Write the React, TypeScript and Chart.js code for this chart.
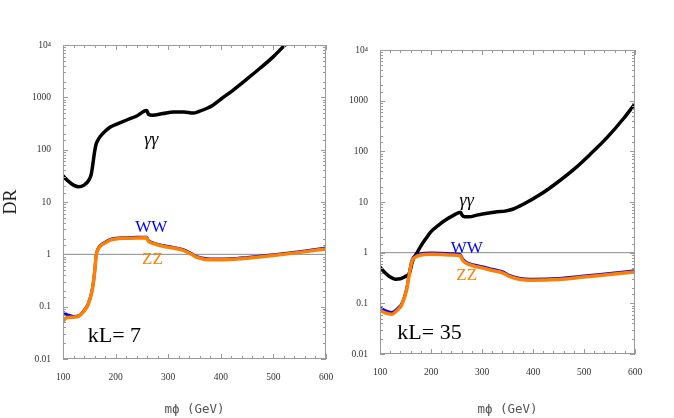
import React, { useEffect, useRef } from 'react';
import { Chart, registerables } from 'chart.js';

Chart.register(...registerables);

// ---------- axis labels ----------
const yTickValues = [0.01, 0.1, 1, 10, 100, 1000, 10000];
const yTickLabels = ['0.01', '0.1', '1', '10', '100', '1000', '10⁴'];
const xTickLabelValues = [100, 200, 300, 400, 500, 600];

// ---------- kL = 7 ----------
const gg7Mass = [100, 110, 120, 130, 140, 150, 154, 157, 160, 163, 166, 170, 180, 190, 200, 220, 240, 259, 263, 270, 290, 310, 330, 347, 360, 373, 385, 400, 423, 450, 474, 500, 522, 550, 600];
const gg7Values = [31.6, 25, 21, 19.5, 21, 27, 35, 55, 90, 128, 150, 175, 225, 272, 300, 365, 440, 560, 470, 455, 490, 525, 525, 500, 545, 611, 708, 920, 1365, 2250, 3550, 6000, 10000, 17500, 45000];

const vv7Mass = [100, 105, 110, 120, 130, 140, 148, 154, 157, 160, 163, 166, 170, 180, 190, 200, 220, 240, 259, 262, 270, 290, 310, 330, 345, 355, 370, 390, 420, 450, 500, 550, 600];
const ww7Values = [0.078, 0.073, 0.069, 0.065, 0.067, 0.085, 0.115, 0.18, 0.26, 0.45, 0.95, 1.25, 1.45, 1.7, 1.92, 2.02, 2.08, 2.12, 2.13, 1.85, 1.68, 1.48, 1.36, 1.22, 1.02, 0.9, 0.83, 0.81, 0.82, 0.87, 0.98, 1.12, 1.32];
const zz7Values = [0.052, 0.06, 0.062, 0.063, 0.066, 0.082, 0.11, 0.175, 0.25, 0.44, 0.92, 1.2, 1.4, 1.65, 1.87, 1.97, 2.03, 2.06, 2.07, 1.8, 1.63, 1.43, 1.32, 1.18, 0.99, 0.87, 0.8, 0.785, 0.8, 0.845, 0.95, 1.09, 1.27];

// ---------- kL = 35 ----------
const gg35Mass = [100, 110, 120, 130, 140, 150, 156, 159, 162, 166, 170, 180, 190, 200, 215, 230, 245, 258, 261, 266, 275, 290, 310, 330, 345, 360, 381, 414, 447, 480, 512, 545, 578, 600];
const gg35Values = [0.52, 0.4, 0.33, 0.3, 0.305, 0.34, 0.37, 0.43, 0.59, 0.78, 0.9, 1.35, 1.9, 2.6, 3.5, 4.5, 5.5, 6.3, 5.5, 5.1, 5.1, 5.5, 6.0, 6.4, 6.6, 7.2, 9, 14, 24, 44, 87, 186, 450, 870];

const vv35Mass = [100, 110, 123, 135, 143, 152, 157, 160, 163, 168, 180, 200, 220, 240, 257, 262, 270, 285, 300, 320, 340, 355, 375, 400, 450, 500, 550, 600];
const ww35Values = [0.082, 0.072, 0.066, 0.08, 0.1, 0.19, 0.37, 0.55, 0.72, 0.85, 0.95, 0.98, 0.97, 0.95, 0.92, 0.75, 0.64, 0.57, 0.53, 0.47, 0.42, 0.35, 0.31, 0.3, 0.31, 0.345, 0.39, 0.44];
const zz35Values = [0.073, 0.065, 0.061, 0.075, 0.095, 0.18, 0.35, 0.52, 0.69, 0.8, 0.9, 0.93, 0.92, 0.9, 0.87, 0.71, 0.61, 0.54, 0.5, 0.445, 0.4, 0.335, 0.295, 0.285, 0.295, 0.33, 0.37, 0.415];

const unitLineMass = [100, 600];
const unitLineValues = [1, 1];

const zip = (xs: number[], ys: number[]) => xs.map((x, i) => ({ x, y: ys[i] }));

type Note = { text: string; x: number; y: number; color: string; font: string; align: CanvasTextAlign };

const framePlugin = {
  id: 'frame',
  afterDatasetsDraw(chart: any) {
    const { ctx, chartArea: a, scales } = chart;
    const xs = scales.x;
    const ys = scales.y;
    ctx.save();
    ctx.strokeStyle = '#9a9a9a';
    ctx.lineWidth = 1;
    ctx.strokeRect(Math.round(a.left) + 0.5, Math.round(a.top) + 0.5, Math.round(a.width) - 1, Math.round(a.height) - 1);
    ctx.beginPath();
    for (const t of xs.ticks) {
      const px = Math.round(xs.getPixelForValue(t.value)) + 0.5;
      const len = Math.abs(t.value % 100) < 1e-6 ? 5 : 3;
      ctx.moveTo(px, a.bottom);
      ctx.lineTo(px, a.bottom - len);
      ctx.moveTo(px, a.top);
      ctx.lineTo(px, a.top + len);
    }
    for (const t of ys.ticks) {
      const py = Math.round(ys.getPixelForValue(t.value)) + 0.5;
      const lg = Math.log10(t.value);
      const len = Math.abs(lg - Math.round(lg)) < 1e-6 ? 5 : 3;
      ctx.moveTo(a.left, py);
      ctx.lineTo(a.left + len, py);
      ctx.moveTo(a.right, py);
      ctx.lineTo(a.right - len, py);
    }
    ctx.stroke();
    ctx.restore();
  },
};

function makeNotesPlugin(notes: Note[]) {
  return {
    id: 'notes',
    afterDatasetsDraw(chart: any) {
      const { ctx, scales } = chart;
      for (const n of notes) {
        ctx.save();
        ctx.font = n.font;
        ctx.fillStyle = n.color;
        ctx.textAlign = n.align;
        ctx.textBaseline = 'middle';
        ctx.fillText(n.text, scales.x.getPixelForValue(n.x), scales.y.getPixelForValue(n.y));
        ctx.restore();
      }
    },
  };
}

type PanelProps = {
  left: number;
  width: number;
  padTop: number;
  padRight: number;
  yWidth: number;
  xHeight: number;
  showYTitle: boolean;
  gg: { x: number; y: number }[];
  ww: { x: number; y: number }[];
  zz: { x: number; y: number }[];
  notes: Note[];
};

function Panel(p: PanelProps) {
  const ref = useRef<HTMLCanvasElement>(null);
  useEffect(() => {
    const tickFont = { family: '"Liberation Serif", serif', size: 9.5 };
    const chart = new Chart(ref.current as HTMLCanvasElement, {
      type: 'line',
      data: {
        datasets: [
          { data: p.zz, borderColor: '#ff8000', borderWidth: 3.5, pointRadius: 0, cubicInterpolationMode: 'monotone', fill: false },
          { data: p.ww, borderColor: '#0000ff', borderWidth: 3, pointRadius: 0, cubicInterpolationMode: 'monotone', fill: false },
          { data: p.gg, borderColor: '#000000', borderWidth: 3.5, pointRadius: 0, cubicInterpolationMode: 'monotone', fill: false },
          { data: zip(unitLineMass, unitLineValues), borderColor: '#8a8a8a', borderWidth: 1, pointRadius: 0, fill: false },
        ],
      },
      options: {
        responsive: false,
        animation: false,
        events: [],
        layout: { padding: { top: p.padTop, right: p.padRight, left: 0, bottom: 0 } },
        plugins: { legend: { display: false }, tooltip: { enabled: false } },
        scales: {
          x: {
            type: 'linear',
            min: 100,
            max: 600,
            afterFit: (s: any) => { s.height = p.xHeight; },
            grid: { display: false },
            border: { display: false },
            ticks: {
              stepSize: 20,
              autoSkip: false,
              maxRotation: 0,
              padding: 5,
              color: '#333',
              font: tickFont,
              callback: (v: any) => (xTickLabelValues.includes(Number(v)) ? String(v) : ''),
            },
            title: {
              display: true,
              text: 'mϕ (GeV)',
              color: '#555',
              font: { family: '"DejaVu Sans Mono", monospace', size: 12.5 },
              padding: { top: 0, bottom: 1 },
            },
          },
          y: {
            type: 'logarithmic',
            min: 0.01,
            max: 10000,
            afterFit: (s: any) => { s.width = p.yWidth; },
            grid: { display: false },
            border: { display: false },
            ticks: {
              autoSkip: false,
              padding: 4,
              color: '#333',
              font: tickFont,
              callback: (v: any) => {
                const i = yTickValues.findIndex((t) => Math.abs(Math.log10(t) - Math.log10(Number(v))) < 1e-6);
                return i >= 0 ? yTickLabels[i] : '';
              },
            },
            title: {
              display: p.showYTitle,
              text: 'DR',
              color: '#222',
              font: { family: '"Liberation Serif", serif', size: 18 },
              padding: 0,
            },
          },
        },
      } as any,
      plugins: [framePlugin, makeNotesPlugin(p.notes)],
    });
    return () => chart.destroy();
  }, []);
  return <canvas ref={ref} width={p.width} height={418} style={{ position: 'absolute', left: p.left, top: 0 }} />;
}

const notes7: Note[] = [
  { text: 'γγ', x: 268, y: 152, color: '#000', font: 'italic 18px "Liberation Serif"', align: 'center' },
  { text: 'WW', x: 268, y: 3.2, color: '#0000ff', font: '17px "Liberation Serif"', align: 'center' },
  { text: 'ZZ', x: 270, y: 0.78, color: '#ff8000', font: '17px "Liberation Serif"', align: 'center' },
  { text: 'kL= 7', x: 147, y: 0.027, color: '#000', font: '22px "Liberation Serif"', align: 'left' },
];

const notes35: Note[] = [
  { text: 'γγ', x: 270, y: 10.4, color: '#000', font: 'italic 18px "Liberation Serif"', align: 'center' },
  { text: 'WW', x: 270, y: 1.22, color: '#0000ff', font: '17px "Liberation Serif"', align: 'center' },
  { text: 'ZZ', x: 270, y: 0.356, color: '#ff8000', font: '17px "Liberation Serif"', align: 'center' },
  { text: 'kL= 35', x: 134, y: 0.026, color: '#000', font: '22px "Liberation Serif"', align: 'left' },
];

export default function App() {
  return (
    <div style={{ position: 'absolute', left: 0, top: 0, width: 674, height: 418, background: '#fff', overflow: 'hidden' }}>
      <Panel
        left={0}
        width={340}
        padTop={45}
        padRight={14}
        yWidth={63}
        xHeight={59}
        showYTitle={true}
        gg={zip(gg7Mass, gg7Values)}
        ww={zip(vv7Mass, ww7Values)}
        zz={zip(vv7Mass, zz7Values)}
        notes={notes7}
      />
      <Panel
        left={340}
        width={334}
        padTop={50}
        padRight={39}
        yWidth={40}
        xHeight={64}
        showYTitle={false}
        gg={zip(gg35Mass, gg35Values)}
        ww={zip(vv35Mass, ww35Values)}
        zz={zip(vv35Mass, zz35Values)}
        notes={notes35}
      />
    </div>
  );
}
